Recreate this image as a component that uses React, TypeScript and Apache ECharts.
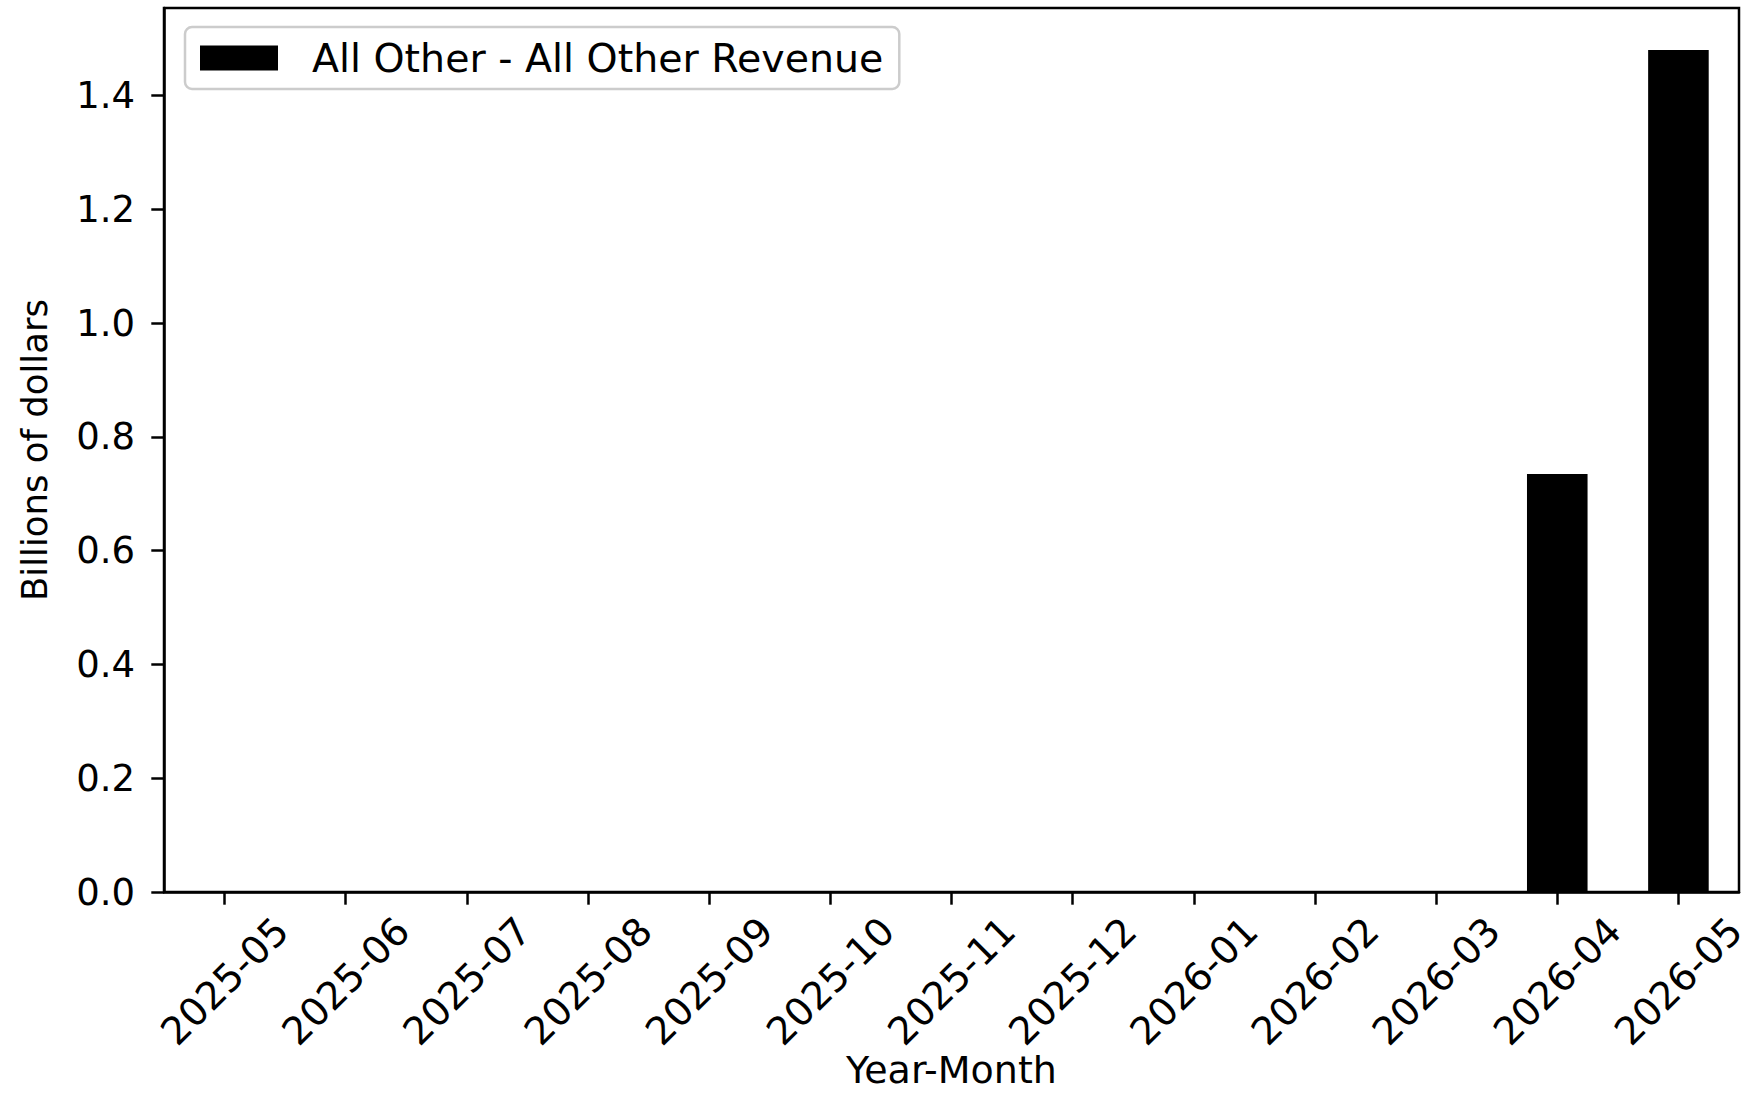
import React, { useEffect, useRef } from "react";
import * as echarts from "echarts";

const categories = [
  "2025-05", "2025-06", "2025-07", "2025-08", "2025-09", "2025-10", "2025-11",
  "2025-12", "2026-01", "2026-02", "2026-03", "2026-04", "2026-05",
];
const allOtherRevenue = [0, 0, 0, 0, 0, 0, 0, 0, 0, 0, 0, 0.735, 1.48];
const yTicks = [0, 0.2, 0.4, 0.6, 0.8, 1.0, 1.2, 1.4];
const seriesName = "All Other - All Other Revenue";
const yMax = 1.554;

const FONT = "DejaVu Sans";

export default function App() {
  const ref = useRef<HTMLDivElement>(null);
  useEffect(() => {
    if (!ref.current) return;
    const chart = echarts.init(ref.current, null, { renderer: "svg" });
    chart.setOption({
      animation: false,
      backgroundColor: "#ffffff",
      textStyle: { fontFamily: FONT, color: "#000" },
      grid: {
        left: 164,
        right: 15,
        top: 8,
        bottom: 204,
        show: true,
        borderColor: "#000",
        borderWidth: 2.5,
        backgroundColor: "transparent",
        outerBoundsMode: "none",
      },
      legend: {
        left: 185,
        top: 27,
        icon: "rect",
        itemWidth: 78,
        itemHeight: 25,
        padding: [11, 16, 11, 15],
        borderColor: "#cccccc",
        borderWidth: 2.5,
        borderRadius: 7,
        backgroundColor: "rgba(255,255,255,0.8)",
        textStyle: {
          fontFamily: FONT,
          fontSize: 39.5,
          color: "#000",
          padding: [0, 0, 0, 29],
        },
        data: [seriesName],
      },
      xAxis: {
        type: "category",
        data: categories,
        boundaryGap: true,
        name: "Year-Month",
        nameLocation: "middle",
        nameGap: 159,
        nameMoveOverlap: false,
        nameTextStyle: { fontFamily: FONT, fontSize: 38, color: "#000" },
        axisLine: { show: true, lineStyle: { color: "#000", width: 2.5 } },
        axisTick: {
          show: true,
          alignWithLabel: true,
          length: 12.7,
          lineStyle: { color: "#000", width: 2.5 },
        },
        axisLabel: {
          rotate: 45,
          align: "center",
          verticalAlign: "middle",
          margin: 89,
          interval: 0,
          fontFamily: FONT,
          fontSize: 38.5,
          color: "#000",
        },
        splitLine: { show: false },
      },
      yAxis: {
        type: "value",
        min: 0,
        max: yMax,
        name: "Billions of dollars",
        nameLocation: "middle",
        nameGap: 112,
        nameTextStyle: { fontFamily: FONT, fontSize: 35.5, color: "#000" },
        axisLine: { show: true, lineStyle: { color: "#000", width: 2.5 } },
        axisTick: {
          show: true,
          length: 12.7,
          customValues: yTicks,
          lineStyle: { color: "#000", width: 2.5 },
        },
        axisLabel: {
          customValues: yTicks,
          margin: 29,
          fontFamily: FONT,
          fontSize: 37,
          color: "#000",
          formatter: (v: number) => v.toFixed(1),
        },
        splitLine: { show: false },
      },
      series: [
        {
          name: seriesName,
          type: "bar",
          data: allOtherRevenue,
          barWidth: "50%",
          itemStyle: { color: "#000" },
        },
      ],
    });
    return () => chart.dispose();
  }, []);
  return (
    <div
      ref={ref}
      style={{ position: "fixed", left: 0, top: 0, width: 1754, height: 1096, background: "#fff" }}
    />
  );
}
